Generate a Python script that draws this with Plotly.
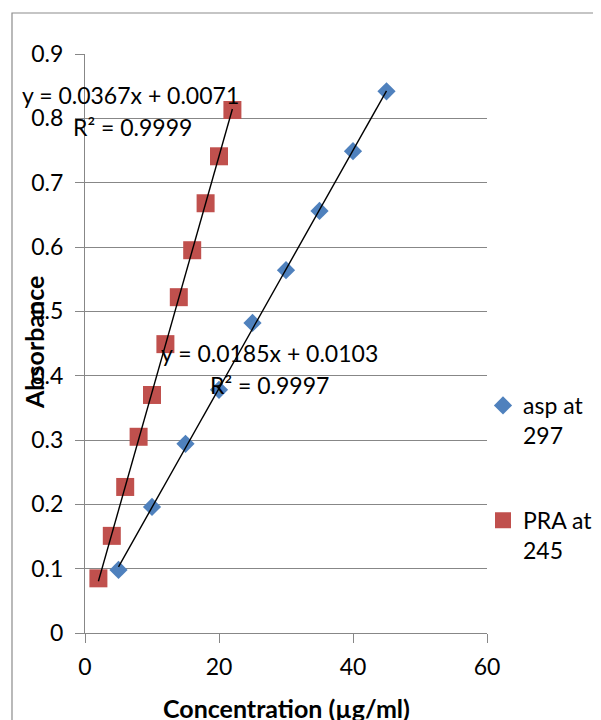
import plotly.graph_objects as go

# ---- data ----
asp_conc = [5, 10, 15, 20, 25, 30, 35, 40, 45]
asp_abs = [0.098, 0.196, 0.294, 0.378, 0.482, 0.564, 0.656, 0.749, 0.842]
pra_conc = [2, 4, 6, 8, 10, 12, 14, 16, 18, 20, 22]
pra_abs = [0.085, 0.151, 0.227, 0.305, 0.370, 0.449, 0.522, 0.595, 0.668, 0.741, 0.813]
asp_slope, asp_icpt, asp_r2 = 0.0185, 0.0103, "0.9997"
pra_slope, pra_icpt, pra_r2 = 0.0367, 0.0071, "0.9999"
x_ticks = [0, 20, 40, 60]
y_ticks = [0, 0.1, 0.2, 0.3, 0.4, 0.5, 0.6, 0.7, 0.8, 0.9]

FONT = "Lato"
BLUE = "#4F81BD"
RED = "#C0504D"
GRID = "#878787"

# page body has an 8px margin: figure origin is at page (8, 8)
OFF = 8
PL, PR, PT, PB = 85 - OFF, 487 - OFF, 54 - OFF, 633 - OFF   # plot area in figure px
PW, PH = PR - PL, PB - PT


def px(xpage):
    return (xpage - OFF - PL) / PW


def py(ypage):
    return (PB - (ypage - OFF)) / PH


fig = go.Figure()
fig.add_trace(go.Scatter(
    x=asp_conc, y=asp_abs, mode="markers", name="asp at<br>297",
    legendgroup="a",
    marker=dict(symbol="diamond", size=14, color=BLUE, line=dict(width=0)),
))
fig.add_trace(go.Scatter(
    x=pra_conc, y=pra_abs, mode="markers", name="PRA at<br>245",
    legendgroup="b",
    marker=dict(symbol="square", size=18, color=RED, line=dict(width=0)),
))
# trendlines
for conc, slope, icpt in [(asp_conc, asp_slope, asp_icpt), (pra_conc, pra_slope, pra_icpt)]:
    xs = [min(conc), max(conc)]
    fig.add_trace(go.Scatter(
        x=xs, y=[slope * v + icpt for v in xs], mode="lines",
        line=dict(color="black", width=1.4), showlegend=False, hoverinfo="skip",
    ))

ann_font = dict(family=FONT, size=23, color="black")
annotations = [
    dict(x=6.78, y=0.836, text=f"y = {pra_slope}x + {pra_icpt}"),
    dict(x=7.09, y=0.787, text=f"R² = {pra_r2}"),
    dict(x=27.6, y=0.435, text=f"y = {asp_slope}x + {asp_icpt}"),
    dict(x=27.6, y=0.3855, text=f"R² = {asp_r2}"),
]
for a in annotations:
    a.update(xref="x", yref="y", showarrow=False, font=ann_font,
             xanchor="center", yanchor="middle")

annotations.append(dict(
    text="<b>Concentration (µg/ml)</b>", xref="paper", yref="paper",
    x=px(286), y=py(708), showarrow=False,
    xanchor="center", yanchor="middle", font=dict(family=FONT, size=25, color="black"),
))
annotations.append(dict(
    text="<b>Absorbance</b>", xref="paper", yref="paper",
    x=px(34), y=py(343), showarrow=False, textangle=-90,
    xanchor="center", yanchor="middle", font=dict(family=FONT, size=25, color="black"),
))

W, H = 601 - OFF, 720 - OFF
fig.update_layout(
    width=W, height=H,
    margin=dict(l=PL, r=W - PR, t=PT, b=H - PB, autoexpand=False),
    paper_bgcolor="white", plot_bgcolor="white",
    font=dict(family=FONT, size=23, color="black"),
    showlegend=True,
    legend=dict(
        x=px(483), y=py(384), xanchor="left", yanchor="top",
        font=dict(family=FONT, size=23, color="black"),
        valign="top", tracegroupgap=52, bgcolor="rgba(0,0,0,0)",
    ),
    annotations=annotations,
    shapes=[dict(
        type="rect", xref="paper", yref="paper",
        x0=px(12), x1=px(640), y0=py(760), y1=py(13),
        line=dict(color="#8c8c8c", width=1.2), fillcolor="rgba(0,0,0,0)", layer="below",
    )],
)
fig.update_xaxes(
    range=[0, 60], tickvals=x_ticks, ticktext=[str(v) for v in x_ticks],
    showgrid=False, zeroline=False, showline=True, linecolor=GRID, linewidth=1.2,
    ticks="outside", ticklen=9, tickcolor=GRID, tickwidth=1.2,
    ticklabelstandoff=4, tickfont=dict(family=FONT, size=23),
)
fig.update_yaxes(
    range=[0, 0.9], tickvals=y_ticks, ticktext=[f"{v:g}" for v in y_ticks],
    showgrid=True, gridcolor=GRID, gridwidth=1.2, zeroline=False,
    showline=True, linecolor=GRID, linewidth=1.2,
    ticks="outside", ticklen=9, tickcolor=GRID, tickwidth=1.2,
    ticklabelstandoff=7, tickfont=dict(family=FONT, size=23),
)
fig.write_html("out.html")
